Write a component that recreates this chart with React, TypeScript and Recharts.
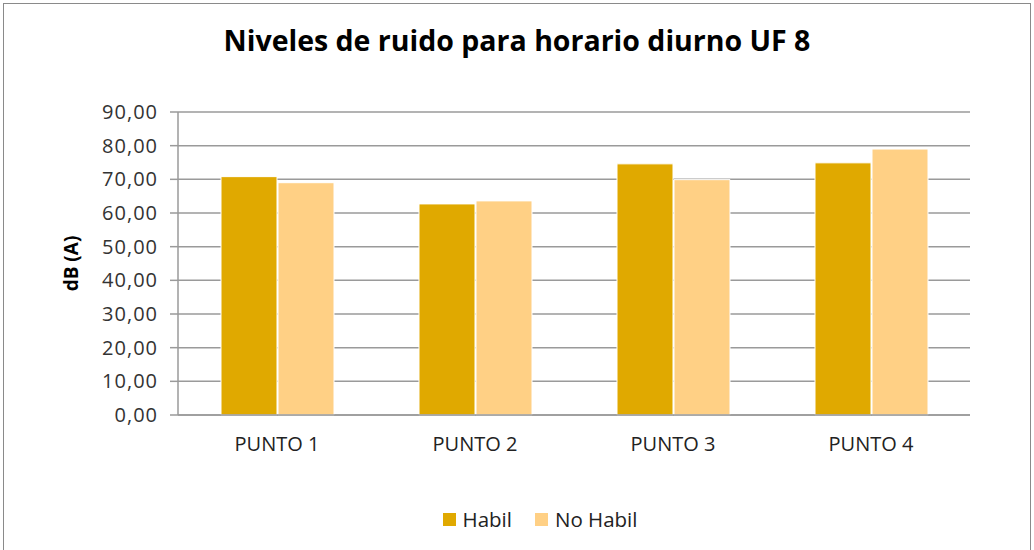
import React from 'react';
import { BarChart, Bar, XAxis, YAxis, CartesianGrid, Legend } from 'recharts';

const puntos = ['PUNTO 1', 'PUNTO 2', 'PUNTO 3', 'PUNTO 4'];
const habil = [70.8, 62.7, 74.6, 74.9];
const noHabil = [69.0, 63.6, 69.9, 79.0];
const yTicks = [0, 10, 20, 30, 40, 50, 60, 70, 80, 90];

const data = puntos.map((p, i) => ({ punto: p, habil: habil[i], noHabil: noHabil[i] }));

const FONT = '"Open Sans", sans-serif';

const renderLegend = (props: any) => {
  const { payload } = props;
  return (
    <div style={{ display: 'flex', justifyContent: 'center', alignItems: 'center', fontFamily: FONT, paddingLeft: 52 }}>
      {(payload || []).map((entry: any, i: number) => (
        <div key={`leg-${i}`} style={{ display: 'flex', alignItems: 'center', marginRight: i === 0 ? 23 : 0 }}>
          <span style={{ display: 'inline-block', width: 13, height: 13, background: entry.color, marginRight: 7 }} />
          <span style={{ color: '#222', fontSize: 20.5 }}>{entry.value}</span>
        </div>
      ))}
    </div>
  );
};

const App: React.FC = () => {
  return (
    <div style={{ position: 'absolute', left: 0, top: 0, width: 1034, height: 550, background: '#fff', overflow: 'hidden', fontFamily: FONT }}>
      {/* outer frame */}
      <div style={{ position: 'absolute', left: 3, top: 3, width: 1026, height: 560, border: '1px solid #8a8a8a' }} />
      <div style={{ position: 'absolute', left: 0, top: 21, width: 1034, textAlign: 'center', fontSize: 28.5, fontWeight: 700, color: '#000' }}>
        Niveles de ruido para horario diurno UF 8
      </div>
      <div style={{ position: 'absolute', left: 0, top: 0 }}>
        <BarChart
          width={1034}
          height={550}
          data={data}
          margin={{ top: 112, right: 64, bottom: 77, left: 58 }}
          barGap={1}
          barSize={56}
        >
          <CartesianGrid vertical={false} stroke="#9a9a9a" strokeWidth={1.5} />
          <XAxis
            dataKey="punto"
            axisLine={{ stroke: '#9a9a9a', strokeWidth: 1.5 }}
            tickLine={false}
            tickMargin={16}
            tick={{ fill: '#222', fontSize: 20, fontFamily: FONT }}
          />
          <YAxis
            width={120}
            domain={[0, 90]}
            ticks={yTicks}
            interval={0}
            axisLine={{ stroke: '#9a9a9a', strokeWidth: 1.5 }}
            tickLine={{ stroke: '#9a9a9a', strokeWidth: 1.5 }}
            tickSize={8}
            tickMargin={12}
            tick={{ fill: '#333', fontSize: 20, fontFamily: FONT, letterSpacing: 1 }}
            tickFormatter={(v: number) => v.toFixed(2).replace('.', ',')}
            label={{
              value: 'dB (A)',
              angle: -90,
              position: 'insideLeft',
              offset: 13,
              style: { fill: '#000', fontSize: 19, fontWeight: 700, fontFamily: FONT, textAnchor: 'middle' },
            }}
          />
          <Legend
            verticalAlign="bottom"
            content={renderLegend}
            wrapperStyle={{ bottom: 17 }}
          />
          <Bar dataKey="habil" name="Habil" fill="#E0A900" stroke="#fff" strokeWidth={1} isAnimationActive={false} />
          <Bar dataKey="noHabil" name="No Habil" fill="#FFD085" stroke="#fff" strokeWidth={1} isAnimationActive={false} />
        </BarChart>
      </div>
    </div>
  );
};

export default App;
